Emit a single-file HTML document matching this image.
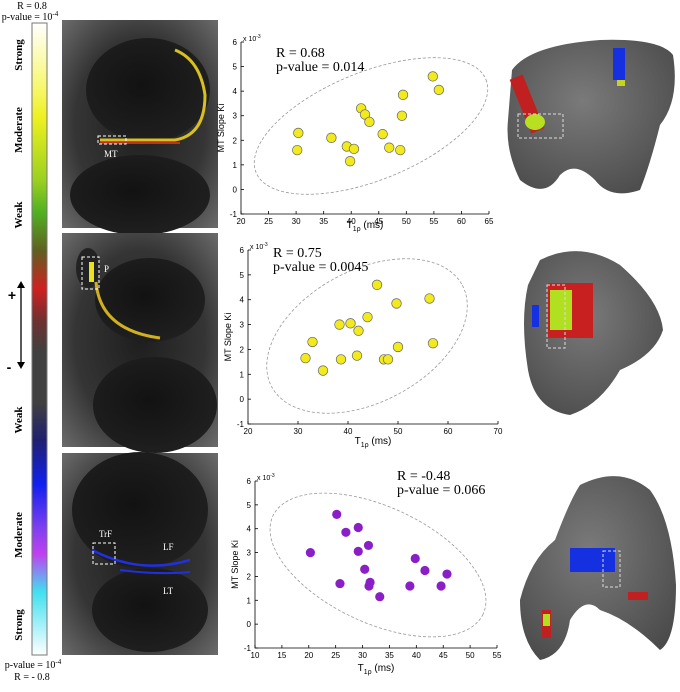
<!DOCTYPE html>
<html><head><meta charset="utf-8">
<style>
body{margin:0;background:#fff;width:680px;height:687px;overflow:hidden;font-family:"Liberation Sans",sans-serif}
svg text{font-family:"Liberation Sans",sans-serif}
svg text.serif{font-family:"Liberation Serif",serif}
</style></head>
<body>
<svg id="fig" width="680" height="687" viewBox="0 0 680 687" xmlns="http://www.w3.org/2000/svg">
<defs>
<linearGradient id="cbar" x1="0" y1="0" x2="0" y2="1">
<stop offset="0" stop-color="#ffffff"/><stop offset="0.1" stop-color="#f8f870"/><stop offset="0.15" stop-color="#eef020"/>
<stop offset="0.25" stop-color="#9ad020"/><stop offset="0.3" stop-color="#50b020"/><stop offset="0.36" stop-color="#606020"/>
<stop offset="0.42" stop-color="#d02020"/><stop offset="0.47" stop-color="#703030"/><stop offset="0.52" stop-color="#404040"/>
<stop offset="0.6" stop-color="#404040"/><stop offset="0.66" stop-color="#202070"/><stop offset="0.73" stop-color="#1020f0"/>
<stop offset="0.8" stop-color="#8040f0"/><stop offset="0.84" stop-color="#c040f0"/><stop offset="0.9" stop-color="#40e0f0"/>
<stop offset="1" stop-color="#ffffff"/></linearGradient>
<radialGradient id="mri" cx="0.5" cy="0.5" r="0.7"><stop offset="0" stop-color="#1e1e1e"/><stop offset="0.6" stop-color="#353535"/><stop offset="1" stop-color="#6a6a6a"/></radialGradient>
<radialGradient id="bone" cx="0.45" cy="0.45" r="0.6"><stop offset="0" stop-color="#121212"/><stop offset="1" stop-color="#202020"/></radialGradient>
<radialGradient id="knee" cx="0.45" cy="0.4" r="0.7"><stop offset="0" stop-color="#7a7a7a"/><stop offset="1" stop-color="#4a4a4a"/></radialGradient>
</defs>

<g>
<text x="32" y="9" font-size="10" text-anchor="middle" class="serif">R = 0.8</text>
<text x="30" y="20" font-size="10" text-anchor="middle" class="serif">p-value = 10<tspan font-size="7" dy="-4">-4</tspan></text>
<rect x="32" y="23" width="15" height="632" fill="url(#cbar)" stroke="#777" stroke-width="1"/>
<text transform="translate(22,55) rotate(-90)" font-size="11" font-weight="bold" text-anchor="middle" class="serif">Strong</text>
<text transform="translate(22,130) rotate(-90)" font-size="11" font-weight="bold" text-anchor="middle" class="serif">Moderate</text>
<text transform="translate(22,215) rotate(-90)" font-size="11" font-weight="bold" text-anchor="middle" class="serif">Weak</text>
<text transform="translate(22,420) rotate(-90)" font-size="11" font-weight="bold" text-anchor="middle" class="serif">Weak</text>
<text transform="translate(22,535) rotate(-90)" font-size="11" font-weight="bold" text-anchor="middle" class="serif">Moderate</text>
<text transform="translate(22,625) rotate(-90)" font-size="11" font-weight="bold" text-anchor="middle" class="serif">Strong</text>
<text x="12" y="300" font-size="14" font-weight="bold" text-anchor="middle">+</text>
<text x="9" y="372" font-size="14" font-weight="bold" text-anchor="middle">-</text>
<line x1="21" y1="283" x2="21" y2="367" stroke="#000" stroke-width="1.3"/>
<path d="M17,288 L21,281 L25,288Z M17,362 L21,369 L25,362Z" fill="#000"/>
<text x="33" y="668" font-size="10" text-anchor="middle" class="serif">p-value = 10<tspan font-size="7" dy="-4">-4</tspan></text>
<text x="32" y="680" font-size="10" text-anchor="middle" class="serif">R = - 0.8</text>
</g>

<g>
<rect x="62" y="20" width="156" height="208" fill="url(#mri)"/>
<ellipse cx="148" cy="90" rx="62" ry="52" fill="url(#bone)"/>
<ellipse cx="140" cy="195" rx="70" ry="40" fill="url(#bone)"/>
<path d="M100,140 L175,140 Q205,135 205,95 Q200,60 175,50" fill="none" stroke="#d8c020" stroke-width="3"/>
<path d="M100,143 L180,143" stroke="#c03020" stroke-width="2"/>
<rect x="98" y="136" width="28" height="8" fill="none" stroke="#fff" stroke-dasharray="3,2"/>
<text x="104" y="157" font-size="9" fill="#fff" class="serif">MT</text>
</g>
<g>
<rect x="62" y="233" width="156" height="214" fill="url(#mri)"/>
<ellipse cx="150" cy="300" rx="55" ry="42" fill="url(#bone)"/>
<ellipse cx="155" cy="405" rx="62" ry="48" fill="url(#bone)"/>
<ellipse cx="88" cy="268" rx="12" ry="20" fill="#222"/>
<path d="M96,282 Q100,330 160,338" fill="none" stroke="#d0b020" stroke-width="3"/>
<rect x="82" y="257" width="17" height="32" fill="none" stroke="#fff" stroke-dasharray="3,2"/>
<rect x="89" y="262" width="5" height="20" fill="#e8e020"/>
<text x="104" y="272" font-size="9" fill="#fff" class="serif">P</text>
</g>
<g>
<rect x="62" y="453" width="156" height="202" fill="url(#mri)"/>
<ellipse cx="140" cy="510" rx="68" ry="58" fill="url(#bone)"/>
<ellipse cx="150" cy="610" rx="58" ry="42" fill="url(#bone)"/>
<path d="M92,550 Q140,575 190,560" fill="none" stroke="#2030e0" stroke-width="2.5"/>
<path d="M120,570 Q160,575 190,572" fill="none" stroke="#2030e0" stroke-width="2"/>
<rect x="93" y="543" width="22" height="21" fill="none" stroke="#fff" stroke-dasharray="3,2"/>
<text x="99" y="537" font-size="9" fill="#fff" class="serif">TrF</text>
<text x="163" y="550" font-size="9" fill="#fff" class="serif">LF</text>
<text x="163" y="594" font-size="9" fill="#fff" class="serif">LT</text>
</g>

<g>
<path d="M512,70 Q530,45 600,40 Q660,38 673,55 Q680,100 660,125 Q650,165 640,190 Q610,200 595,180 Q575,160 560,175 Q545,200 520,180 Q505,150 508,120Z" fill="url(#knee)"/>
<rect x="520" y="75" width="14" height="58" fill="#c02020" transform="rotate(-22 527 104)"/>
<ellipse cx="535" cy="122" rx="10" ry="8" fill="#b8e020"/>
<rect x="613" y="48" width="12" height="32" fill="#1530e0"/>
<rect x="617" y="80" width="8" height="6" fill="#c8d020"/>
<rect x="518" y="114" width="45" height="24" fill="none" stroke="#ddd" stroke-dasharray="3,2"/>
</g>
<g>
<path d="M540,260 Q580,240 620,265 Q660,300 663,330 Q655,355 620,370 Q600,405 570,415 Q535,410 528,370 Q520,320 528,285Z" fill="url(#knee)"/>
<rect x="548" y="283" width="45" height="55" fill="#c82020"/>
<rect x="550" y="290" width="22" height="40" fill="#b0e020"/>
<rect x="532" y="305" width="7" height="22" fill="#1530e0"/>
<rect x="547" y="285" width="18" height="63" fill="none" stroke="#ddd" stroke-dasharray="3,2"/>
</g>
<g>
<path d="M580,485 Q620,465 650,490 Q672,520 676,585 Q676,640 660,650 Q630,620 600,610 Q585,595 570,620 Q565,655 540,660 Q520,640 520,600 Q530,560 555,540 Q570,500 580,485Z" fill="url(#knee)"/>
<rect x="570" y="548" width="45" height="24" fill="#1530e0"/>
<rect x="542" y="610" width="9" height="28" fill="#c02020"/>
<rect x="543" y="614" width="7" height="12" fill="#b0e020"/>
<rect x="628" y="592" width="20" height="8" fill="#c02020"/>
<rect x="603" y="551" width="17" height="36" fill="none" stroke="#ddd" stroke-dasharray="3,2"/>
</g>

<g id="plots"></g>
</svg>
<script>
const p1X = [30.2,30.4,36.4,39.2,40.5,39.8,41.8,42.5,43.3,45.7,46.9,48.9,49.2,49.4,54.8,55.9];
const p1Y = [1.6,2.3,2.1,1.75,1.65,1.15,3.3,3.05,2.75,2.25,1.7,1.6,3.0,3.85,4.6,4.05];
const p1XTicks = [20,25,30,35,40,45,50,55,60,65];
const p2X = [31.5,32.9,35.0,38.3,38.6,40.5,41.8,42.1,43.9,45.8,47.2,48.0,49.7,50.0,56.3,57.0];
const p2Y = [1.65,2.3,1.15,3.0,1.6,3.05,1.75,2.75,3.3,4.6,1.6,1.6,3.85,2.1,4.05,2.25];
const p2XTicks = [20,30,40,50,60,70];
const p3X = [20.3,25.2,25.8,26.9,29.2,29.2,30.4,31.1,31.2,31.4,33.2,38.8,39.8,41.6,44.6,45.7];
const p3Y = [3.0,4.6,1.7,3.85,4.05,3.05,2.3,3.3,1.6,1.75,1.15,1.6,2.75,2.25,1.6,2.1];
const p3XTicks = [10,15,20,25,30,35,40,45,50,55];
const yTicks = [-1,0,1,2,3,4,5,6];
const rLabels = ["R = 0.68","R = 0.75","R = -0.48"];
const pLabels = ["p-value = 0.014","p-value = 0.0045","p-value = 0.066"];

const NS = "http://www.w3.org/2000/svg";
const root = document.getElementById("plots");
function mk(tag, attrs, parent){const e=document.createElementNS(NS,tag);for(const k in attrs)e.setAttribute(k,attrs[k]);(parent||root).appendChild(e);return e;}

const layouts = [
 {x0:241,x1:489,y0:214,y1:42,xmin:20,xmax:65,fill:"#f2ea1c",stroke:"#666",r:4.8,tx:276,ty:57,ell:[371,126,124,54,-22],xl:228},
 {x0:248,x1:498,y0:424,y1:250,xmin:20,xmax:70,fill:"#f2ea1c",stroke:"#666",r:4.8,tx:273,ty:257,ell:[367,336,108,66,-28],xl:444},
 {x0:255,x1:497,y0:648,y1:481,xmin:10,xmax:55,fill:"#8a1fc8",stroke:"none",r:4.6,tx:397,ty:480,ell:[378,565,116,58,25],xl:671}
];
const datasets = [[p1X,p1Y,p1XTicks],[p2X,p2Y,p2XTicks],[p3X,p3Y,p3XTicks]];

datasets.forEach((d,i)=>{
  const L = layouts[i];
  const xs = v => L.x0 + (v-L.xmin)/(L.xmax-L.xmin)*(L.x1-L.x0);
  const ys = v => L.y0 + (v-(-1))/7*(L.y1-L.y0);
  const g = mk("g",{});
  
  
  const ax = mk("path",{d:`M${L.x0},${L.y1} L${L.x0},${L.y0} L${L.x1},${L.y0}`,fill:"none",stroke:"#000","stroke-width":0.8},g);
  
  
  d[2].forEach(t=>{
    const x=xs(t);
    mk("line",{x1:x,y1:L.y0,x2:x,y2:L.y0-3,stroke:"#000","stroke-width":0.8},g);
    const tl=mk("text",{x:x,y:L.y0+10,"font-size":8,"text-anchor":"middle"},g);
    tl.textContent=t;
    
    
  });
  yTicks.forEach(t=>{
    const y=ys(t);
    mk("line",{x1:L.x0,y1:y,x2:L.x0+3,y2:y,stroke:"#000","stroke-width":0.8},g);
    const tl=mk("text",{x:L.x0-4,y:y+3,"font-size":8,"text-anchor":"end"},g);
    tl.textContent=t;
    
    
  });
  const ex=mk("text",{x:L.x0+2,y:L.y1-1,"font-size":7},g);
  ex.innerHTML='x 10<tspan font-size="5" dy="-3">-3</tspan>';
  
  
  const yl=mk("text",{transform:`translate(${L.x0-17},${(L.y0+L.y1)/2}) rotate(-90)`,"font-size":9,"text-anchor":"middle"},g);
  yl.textContent="MT Slope Ki";
  
  
  const xl=mk("text",{x:(L.x0+L.x1)/2,y:L.xl,"font-size":10,"text-anchor":"middle"},g);
  xl.innerHTML='T<tspan font-size="7" dy="3">1ρ</tspan><tspan dy="-3"> (ms)</tspan>';
  
  
  const e=L.ell;
  const el=mk("ellipse",{cx:e[0],cy:e[1],rx:e[2],ry:e[3],transform:`rotate(${e[4]} ${e[0]} ${e[1]})`,fill:"none",stroke:"#999","stroke-width":0.8,"stroke-dasharray":"3,2"},g);
  
  
  d[0].forEach((v,j)=>{
    const c=mk("circle",{cx:xs(v),cy:ys(d[1][j]),r:L.r,fill:L.fill,stroke:L.stroke,"stroke-width":0.7},g);
    
    
  });
  const r=mk("text",{x:L.tx,y:L.ty,"font-size":14,"class":"serif"},g);
  r.textContent=rLabels[i];
  
  
  const p=mk("text",{x:L.tx,y:L.ty+14,"font-size":14,"class":"serif"},g);
  p.textContent=pLabels[i];
  
  
});
</script>
</body></html>
